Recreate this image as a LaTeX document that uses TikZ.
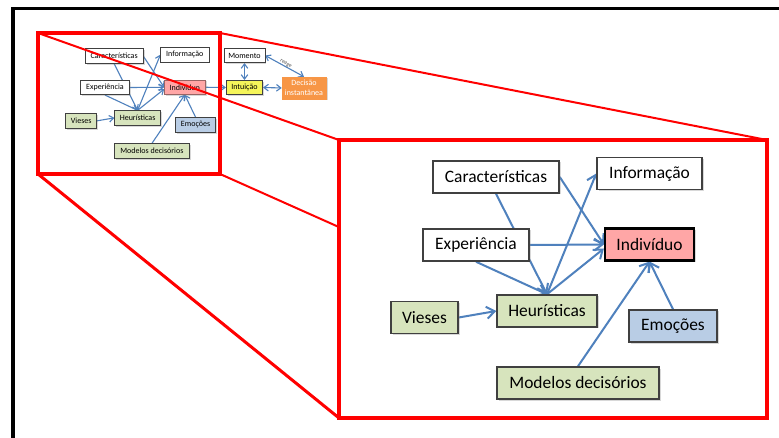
\documentclass[tikz,border=0pt]{standalone}
\usepackage{fontspec}
\setmainfont{Carlito}
\usetikzlibrary{arrows.meta,shadows}

\definecolor{linkblue}{RGB}{79,129,189}
\definecolor{indpink}{RGB}{255,166,166}
\definecolor{boxgreen}{RGB}{215,228,189}
\definecolor{boxblue}{RGB}{185,205,229}
\definecolor{intyellow}{RGB}{245,245,90}
\definecolor{decorange}{RGB}{247,150,70}

% drawing order, bottom to top
\pgfdeclarelayer{framelayer}
\pgfdeclarelayer{smalledges}
\pgfdeclarelayer{smallnodes}
\pgfdeclarelayer{zoomlines}
\pgfdeclarelayer{bigbox}
\pgfdeclarelayer{bigedges}
\pgfdeclarelayer{bignodes}
\pgfsetlayers{framelayer,smalledges,smallnodes,zoomlines,bigbox,bigedges,bignodes,main}

\tikzset{
  box/.style={draw=black!75, fill=white, line width=1.5bp, minimum height=32bp,
    inner sep=2bp, font=\fontsize{17.5}{21}\selectfont,
    drop shadow={shadow xshift=1.5bp, shadow yshift=-1.5bp, opacity=0.3}},
  indbox/.style={fill=indpink, draw=black, line width=2.2bp},
  barb/.tip={Straight Barb[length=0pt 4, width=0pt 6]},
  arr/.style={draw=linkblue, line width=2bp, -barb},
  arrboth/.style={draw=linkblue, line width=2bp, barb-barb},
  zoomframe/.style={draw=red},
}

% the decision map: #1 name prefix, #2 layer for boxes, #3 layer for arrows
\newcommand\opinionmap[3]{%
  \begin{pgfonlayer}{#2}
    \node[box, minimum width=126bp] (#1car) at (496,177) {Características};
    \node[box, minimum width=105bp] (#1inf) at (649.5,173.5) {Informação};
    \node[box, minimum width=106bp] (#1exp) at (476,245) {Experiência};
    \node[box, minimum width=89bp, indbox] (#1ind) at (649.5,244.5) {Indivíduo};
    \node[box, minimum width=67bp, fill=boxgreen] (#1vie) at (424.5,317.5) {Vieses};
    \node[box, minimum width=100bp, fill=boxgreen] (#1heu) at (547,311) {Heurísticas};
    \node[box, minimum width=88bp, fill=boxblue] (#1emo) at (673,326) {Emoções};
    \node[box, minimum width=162bp, fill=boxgreen] (#1mod) at (578,383) {Modelos decisórios};
  \end{pgfonlayer}
  \begin{pgfonlayer}{#3}
    \draw[arr] (#1car.east) -- (#1ind.west);
    \draw[arr] (#1car.south) -- (#1heu.north);
    \draw[arr] (#1exp.east) -- (#1ind.west);
    \draw[arr] (#1exp.south) -- (#1heu.north);
    \draw[arr] (#1heu.north) -- (#1inf.west);
    \draw[arr] (#1heu.north) -- ([yshift=-4bp]#1ind.west);
    \draw[arr] (#1vie.east) -- (#1heu.west);
    \draw[arr] (#1emo.north) -- (#1ind.south);
    \draw[arr] (#1mod.north) -- (#1ind.south);
  \end{pgfonlayer}
}

\begin{document}
\begin{tikzpicture}[x=1bp,y=-1bp]
\path[use as bounding box] (0,0) rectangle (779,438);

% page frame
\begin{pgfonlayer}{framelayer}
  \fill[white] (0,0) rectangle (779,438);
  \draw[line width=3.5bp] (13,440) -- (13,8.5) -- (781,8.5);
\end{pgfonlayer}

% overview of the whole map
\begin{scope}[shift={(-114,-25.2)}, scale=0.46, transform shape,
    box/.append style={line width=0.8bp},
    indbox/.style={fill=indpink, draw=indpink!60!black, line width=0.8bp},
    arr/.append style={line width=1.1bp},
    arrboth/.append style={line width=1.1bp}]
  \opinionmap{s}{smallnodes}{smalledges}
  \begin{pgfonlayer}{smallnodes}
    \node[box, minimum width=89bp] (smom) at (779.3,175.4) {Momento};
    \node[box, minimum width=80bp, fill=intyellow] (sint) at (779.3,245) {Intuição};
    \node[box, minimum width=96bp, minimum height=48bp, fill=decorange,
      draw=decorange, text=white, align=center] (sdec) at (908.7,246) {Decisão\\instantânea};
  \end{pgfonlayer}
  \begin{pgfonlayer}{smalledges}
    \draw[arr] (sind.east) -- (sint.west);
    \draw[arrboth] (smom.south) -- (sint.north);
    \draw[arrboth] (sint.east) -- (sdec.west);
    \draw[arrboth] (smom.east) -- node[sloped, above, inner sep=1bp,
      font=\fontsize{12}{14}\selectfont, text=black!70] {reage} (sdec.north);
  \end{pgfonlayer}
\end{scope}

% zoom frame corners
\coordinate (zTL) at (38,33);
\coordinate (zTR) at (220,33);
\coordinate (zBL) at (38,174);
\coordinate (zBR) at (220,174);
\coordinate (bTL) at (339,140);
\coordinate (bTR) at (767,140);
\coordinate (bBL) at (339,418);
\coordinate (bBR) at (767,418);

\begin{pgfonlayer}{zoomlines}
  \draw[zoomframe, line width=4.5bp] (zTL) rectangle (zBR);
  \draw[zoomframe, line width=2bp] (zTL) -- (bTL);
  \draw[zoomframe, line width=2bp] (zTR) -- (bTR);
  \draw[zoomframe, line width=3bp] (zBL) -- (bBL);
  \draw[zoomframe, line width=2bp] (zBR) -- (bBR);
\end{pgfonlayer}

\begin{pgfonlayer}{bigbox}
  \draw[zoomframe, line width=3.5bp, fill=white] (bTL) rectangle (bBR);
\end{pgfonlayer}

% enlarged map
\opinionmap{b}{bignodes}{bigedges}

\end{tikzpicture}
\end{document}
